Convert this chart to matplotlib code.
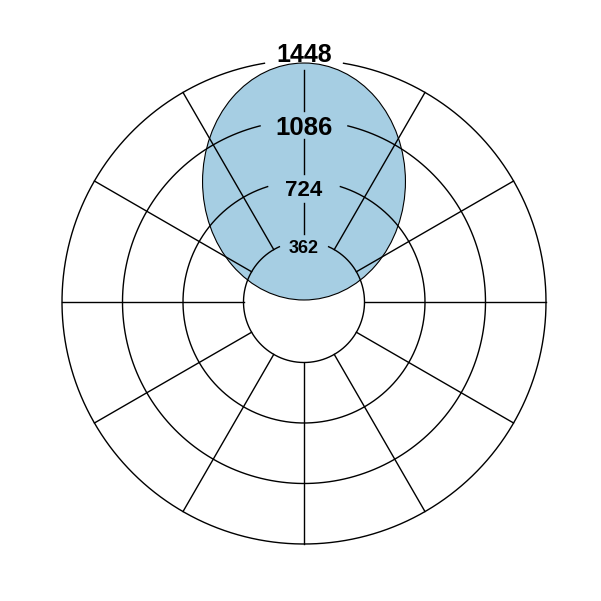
import numpy as np
import matplotlib
matplotlib.use("Agg")
import matplotlib.pyplot as plt
from matplotlib.patches import Ellipse

# radial scale and tick values
r_max = 1448
ring_values = [362, 724, 1086, 1448]
ring_labels = ["362", "724", "1086", "1448"]
label_sizes = [13, 16, 18.5, 18]
label_baselines = [295, 636, 999, 1436]  # where each label sits (radial units)
spoke_angles = list(range(0, 360, 30))  # degrees, clockwise from top

# the blob (ellipse) in radial units: centre distance above origin, width, height
blob_center = 721
blob_width = 1214
blob_height = 1418
blob_color = "#a6cee3"

# gaps around the labels (half-angle of the ring gap, degrees)
ring_gaps = [24, 17.5, 14, 9.4]
# pieces of the vertical spoke that are visible between the labels
top_spoke_pieces = [(407, 592), (766, 975), (1143, 1388)]

fig = plt.figure(figsize=(6.01, 6.01), dpi=100)
pos = [62 / 601, 57 / 601, 484 / 601, 484 / 601]

# cartesian layer for the ellipse (same radius scale as the polar axes)
axc = fig.add_axes(pos)
axc.set_xlim(-r_max, r_max)
axc.set_ylim(-r_max, r_max)
axc.set_aspect("equal")
axc.axis("off")
axc.add_patch(Ellipse((0, blob_center), blob_width, blob_height,
                      facecolor=blob_color, edgecolor="black", lw=0.8))

# polar layer with the grid
ax = fig.add_axes(pos, projection="polar")
ax.set_facecolor("none")
ax.set_theta_zero_location("N")
ax.set_theta_direction(-1)
ax.set_ylim(0, r_max)
ax.grid(False)
ax.set_xticks([])
ax.set_yticks([])
ax.spines["polar"].set_visible(False)

for a in spoke_angles:
    if a == 0:
        continue
    t = np.deg2rad(a)
    ax.plot([t, t], [ring_values[0], r_max], color="black", lw=1.0, clip_on=False)

for r0, r1 in top_spoke_pieces:
    ax.plot([0, 0], [r0, r1], color="black", lw=1.0, clip_on=False)

for rv, g in zip(ring_values, ring_gaps):
    th = np.linspace(np.deg2rad(g), 2 * np.pi - np.deg2rad(g), 400)
    ax.plot(th, np.full_like(th, rv), color="black", lw=1.0, clip_on=False)

for rb, lab, fs in zip(label_baselines, ring_labels, label_sizes):
    ax.text(0, rb, lab, ha="center", va="baseline", fontsize=fs,
            fontweight="bold", family="Liberation Sans", color="black")

fig.savefig("out.png", dpi=100)
